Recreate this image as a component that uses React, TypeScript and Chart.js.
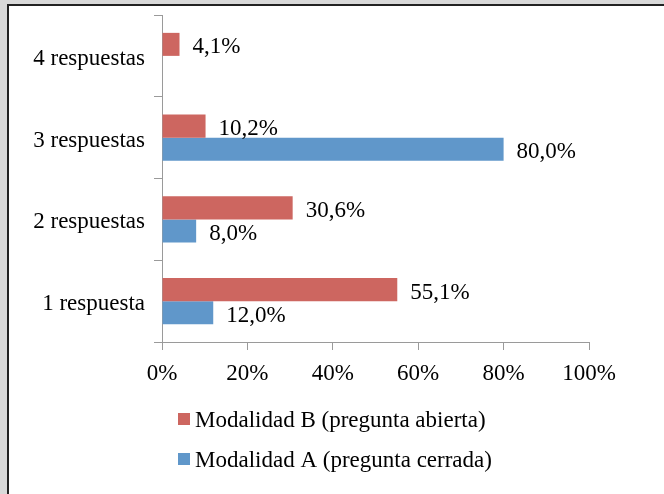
import React, { useEffect, useRef } from "react";
import { Chart, registerables } from "chart.js";

Chart.register(...registerables);

const categories = ["4 respuestas", "3 respuestas", "2 respuestas", "1 respuesta"];
const seriesBLabel = "Modalidad B (pregunta abierta)";
const seriesALabel = "Modalidad A (pregunta cerrada)";
const seriesB: (number | null)[] = [4.1, 10.2, 30.6, 55.1];
const seriesA: (number | null)[] = [null, 80.0, 8.0, 12.0];
const xMin = 0;
const xMax = 100;
const xStep = 20;

const RED = "#CD6660";
const BLUE = "#6097CA";
const AXIS = "#9a9a9a";
const FONT = "'Liberation Serif', 'Times New Roman', serif";
const FS = 23;

const fmt = (v: number) => v.toFixed(1).replace(".", ",") + "%";

const valueLabels = {
  id: "valueLabels",
  afterDatasetsDraw(chart: any) {
    const { ctx } = chart;
    ctx.save();
    ctx.font = `${FS}px ${FONT}`;
    ctx.fillStyle = "#000";
    ctx.textAlign = "left";
    ctx.textBaseline = "middle";
    chart.data.datasets.forEach((ds: any, i: number) => {
      const meta = chart.getDatasetMeta(i);
      meta.data.forEach((el: any, j: number) => {
        const v = ds.data[j];
        if (v === null || v === undefined) return;
        ctx.fillText(fmt(v), el.x + 13, el.y + 3);
      });
    });
    ctx.restore();
  },
};

const customLegend = {
  id: "customLegend",
  afterDraw(chart: any) {
    const { ctx, chartArea } = chart;
    ctx.save();
    ctx.font = `${FS}px ${FONT}`;
    ctx.textAlign = "left";
    ctx.textBaseline = "alphabetic";
    const x0 = chartArea.left + 16;
    const y0 = chartArea.bottom + 71;
    chart.data.datasets.forEach((ds: any, i: number) => {
      const y = y0 + i * 40;
      ctx.fillStyle = ds.backgroundColor;
      ctx.fillRect(x0, y, 12, 12);
      ctx.fillStyle = "#000";
      ctx.fillText(ds.label, x0 + 17, y + 14);
    });
    ctx.restore();
  },
};

export default function App() {
  const ref = useRef<HTMLCanvasElement | null>(null);

  useEffect(() => {
    document.body.style.margin = "0";
    const canvas = ref.current;
    if (!canvas) return;
    Chart.defaults.font.family = FONT;
    const chart = new Chart(canvas, {
      type: "bar",
      data: {
        labels: categories,
        datasets: [
          { label: seriesBLabel, data: seriesB, backgroundColor: RED, categoryPercentage: 0.563, barPercentage: 1 },
          { label: seriesALabel, data: seriesA, backgroundColor: BLUE, categoryPercentage: 0.563, barPercentage: 1 },
        ],
      },
      options: {
        indexAxis: "y",
        animation: false,
        responsive: false,
        maintainAspectRatio: false,
        layout: { padding: { top: 15, right: 75, bottom: 104, left: 0 } },
        plugins: {
          legend: { display: false },
          tooltip: { enabled: false },
        },
        scales: {
          x: {
            min: xMin,
            max: xMax,
            ticks: {
              stepSize: xStep,
              callback: (v: any) => v + "%",
              color: "#000",
              font: { size: FS, family: FONT },
              padding: 10,
              maxRotation: 0,
            },
            grid: { drawOnChartArea: false, drawTicks: true, tickLength: 8, color: AXIS },
            border: { display: true, color: AXIS },
            afterFit: (scale: any) => {
              scale.height = 48;
              scale.paddingLeft = 0;
              scale.paddingRight = 0;
            },
          },
          y: {
            offset: true,
            ticks: {
              color: "#000",
              font: { size: FS, family: FONT },
              padding: 9,
              labelOffset: 3,
            },
            grid: { drawOnChartArea: false, drawTicks: true, tickLength: 8, color: AXIS, offset: true },
            border: { display: true, color: AXIS },
            afterFit: (scale: any) => {
              scale.width = 162;
              scale.paddingTop = 0;
              scale.paddingBottom = 0;
            },
          },
        },
      },
      plugins: [valueLabels, customLegend],
    });
    return () => chart.destroy();
  }, []);

  return (
    <div style={{ position: "relative", width: 664, height: 494, background: "#d9d9d9", overflow: "hidden" }}>
      <div
        style={{
          position: "absolute",
          left: 7,
          top: 4,
          right: 0,
          bottom: 0,
          background: "#fff",
          borderLeft: "2px solid #222",
          borderTop: "2px solid #222",
        }}
      />
      <canvas ref={ref} width={664} height={494} style={{ position: "absolute", left: 0, top: 0, width: 664, height: 494 }} />
    </div>
  );
}
